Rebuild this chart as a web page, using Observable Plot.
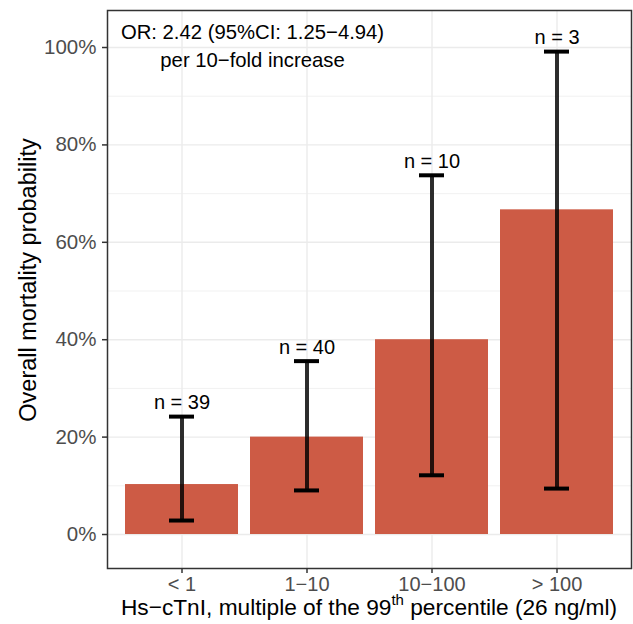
<!DOCTYPE html>
<html>
<head>
<meta charset="utf-8">
<script src="https://cdn.jsdelivr.net/npm/d3@7"></script>
<script src="https://cdn.jsdelivr.net/npm/@observablehq/plot@0.6"></script>
<style>
  html, body { margin: 0; padding: 0; background: white; }
  #chart svg { display: block; }
</style>
</head>
<body>
<div id="chart"></div>
<script>
const categories = ["< 1", "1\u221210", "10\u2212100", "> 100"];
const probability = [0.1026, 0.20, 0.40, 0.6667];
const lowerCI = [0.0287, 0.0905, 0.1216, 0.0943];
const upperCI = [0.2421, 0.3560, 0.7376, 0.9916];
const nLabels = ["n = 39", "n = 40", "n = 10", "n = 3"];
const yTicks = [0, 0.2, 0.4, 0.6, 0.8, 1.0];
const yMinor = [0.1, 0.3, 0.5, 0.7, 0.9];
const orText = "OR: 2.42 (95%CI: 1.25\u22124.94)\nper 10\u2212fold increase";

const data = categories.map((c, i) => ({
  cat: c, p: probability[i], lo: lowerCI[i], hi: upperCI[i], n: nLabels[i]
}));

const font = "'Liberation Sans', Arial, Helvetica, sans-serif";

const chart = Plot.plot({
  width: 633,
  height: 624,
  marginLeft: 107,
  marginRight: 2,
  marginTop: 10,
  marginBottom: 56,
  style: { fontFamily: font, background: "white", color: "black" },
  x: { domain: categories, paddingInner: 0.1, paddingOuter: 0.146, label: null },
  y: { domain: [-0.0698, 1.076], label: null },
  marks: [
    Plot.gridY(yMinor, { stroke: "#EBEBEB", strokeOpacity: 1, strokeWidth: 0.7 }),
    Plot.gridY(yTicks, { stroke: "#EBEBEB", strokeOpacity: 1, strokeWidth: 1.4 }),
    Plot.gridX(categories, { stroke: "#EBEBEB", strokeOpacity: 1, strokeWidth: 1.4 }),
    Plot.barY(data, { x: "cat", y: "p", fill: "#CD5B45" }),
    Plot.ruleX(data, { x: "cat", y1: "lo", y2: "hi", stroke: "#000", strokeOpacity: 0.82, strokeWidth: 4 }),
    Plot.tickY(data, { x: "cat", y: "lo", stroke: "#000", strokeWidth: 4, insetLeft: 44, insetRight: 44 }),
    Plot.tickY(data, { x: "cat", y: "hi", stroke: "#000", strokeWidth: 4, insetLeft: 44, insetRight: 44 }),
    Plot.text(data, { x: "cat", y: "hi", text: "n", dy: -14, lineAnchor: "middle", fontSize: 20, fill: "black" }),
    Plot.text([orText], { frameAnchor: "top-left", dx: 145, dy: 8, lineAnchor: "top", textAnchor: "middle", fontSize: 20.3, lineHeight: 1.4, fill: "black" }),
    Plot.frame({ stroke: "#333", strokeWidth: 1.5 }),
    Plot.axisY(yTicks, { tickFormat: d => Math.round(d * 100) + "%", fontSize: 20.5, fill: "#4D4D4D", stroke: "#333", strokeWidth: 1.5, tickSize: 5, tickPadding: 6, label: null }),
    Plot.axisX({ fontSize: 20, fill: "#4D4D4D", stroke: "#333", strokeWidth: 1.5, tickSize: 5, tickPadding: 3, label: null })
  ]
});

const ns = "http://www.w3.org/2000/svg";
// x-axis title with superscript
const xt = document.createElementNS(ns, "text");
xt.setAttribute("x", 369);
xt.setAttribute("y", 615);
xt.setAttribute("text-anchor", "middle");
xt.setAttribute("font-size", 22.7);
xt.setAttribute("fill", "black");
xt.setAttribute("font-family", font);
const t1 = document.createElementNS(ns, "tspan");
t1.textContent = "Hs\u2212cTnI, multiple of the 99";
const t2 = document.createElementNS(ns, "tspan");
t2.textContent = "th";
t2.setAttribute("font-size", 15);
t2.setAttribute("dy", -10);
const t3 = document.createElementNS(ns, "tspan");
t3.textContent = " percentile (26 ng/ml)";
t3.setAttribute("dy", 10);
xt.append(t1, t2, t3);
chart.append(xt);

// y-axis title
const yt = document.createElementNS(ns, "text");
yt.setAttribute("transform", "translate(36,280) rotate(-90)");
yt.setAttribute("text-anchor", "middle");
yt.setAttribute("font-size", 23.5);
yt.setAttribute("fill", "black");
yt.setAttribute("font-family", font);
yt.textContent = "Overall mortality probability";
chart.append(yt);

document.getElementById("chart").append(chart);
</script>
</body>
</html>
